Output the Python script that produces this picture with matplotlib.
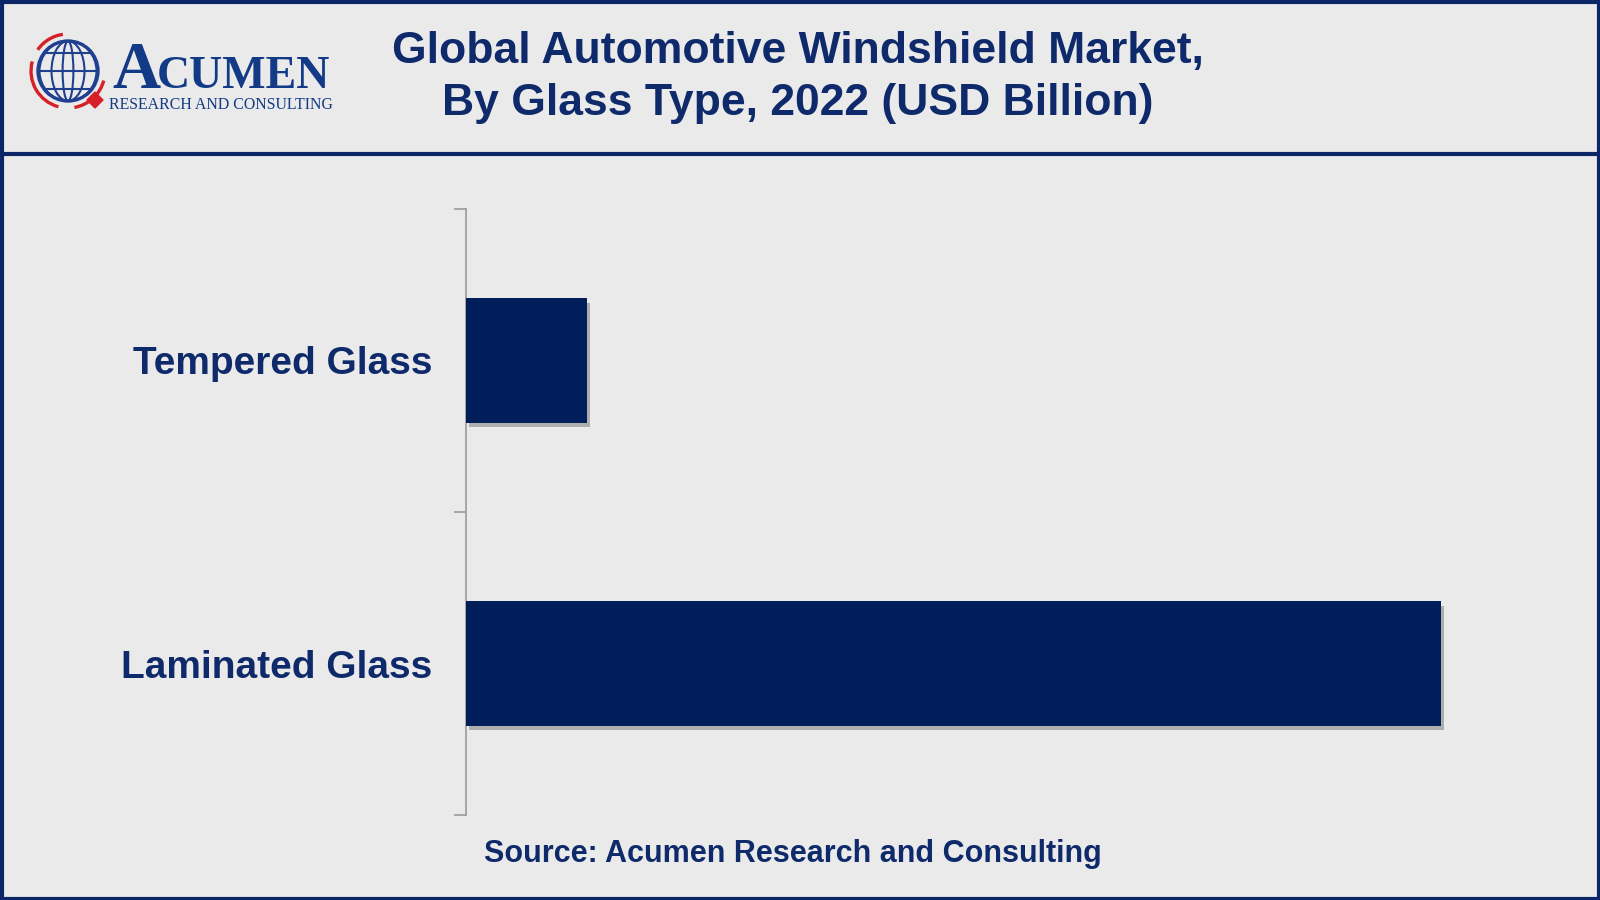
import math
import matplotlib
matplotlib.use("Agg")
import matplotlib.pyplot as plt
from matplotlib.patches import Circle, Ellipse, Arc, Rectangle, RegularPolygon
import matplotlib.patheffects as pe

categories = ["Laminated Glass", "Tempered Glass"]
values = [17.5, 2.17]
title_lines = ["Global Automotive Windshield Market,", "By Glass Type, 2022 (USD Billion)"]
source_text = "Source: Acumen Research and Consulting"

NAVY = "#001E5A"
TEXT = "#0F2A6B"
BG = "#EAEAEA"
LOGO = "#123A86"

fig = plt.figure(figsize=(16, 9), dpi=100, facecolor=BG)

deco = fig.add_axes([0, 0, 1, 1], zorder=0)
deco.set_xlim(0, 1600)
deco.set_ylim(900, 0)
deco.axis("off")
deco.set_facecolor(BG)

# frame
deco.add_patch(Rectangle((1.5, 1.5), 1597, 897, fill=False, ec="#0B2566", lw=3))
deco.plot([0, 1600], [153.5, 153.5], color="#0B2566", lw=3, solid_capstyle="butt")

# logo globe
gx, gy, gr = 68, 71, 30
deco.add_patch(Circle((gx, gy), gr, fill=False, ec="#1F3F8F", lw=2.4))
for w in [0.95, 0.55, 0.18]:
    deco.add_patch(Ellipse((gx, gy), 2 * gr * w, 2 * gr, fill=False, ec="#1F3F8F", lw=1.5))
for dy in [-18, 0, 18]:
    half = math.sqrt(max(gr ** 2 - dy ** 2, 0))
    deco.plot([gx - half, gx + half], [gy + dy, gy + dy], color="#1F3F8F", lw=1.5)
R = 2 * (gr + 7)
deco.add_patch(Arc((gx, gy), R, R, theta1=105, theta2=195, color="#D62027", lw=2.4))
deco.add_patch(Arc((gx, gy), R, R, theta1=15, theta2=80, color="#D62027", lw=2.4))
deco.add_patch(Arc((gx, gy), R, R, theta1=215, theta2=262, color="#D62027", lw=2.4))
deco.add_patch(RegularPolygon((95, 100), 4, radius=8, orientation=0, color="#D62027"))

tA = deco.text(112, 88, "A", fontsize=48, family="Liberation Serif", fontweight="bold",
               color=LOGO, ha="left", va="baseline")
fig.canvas.draw()
bb = tA.get_window_extent(renderer=fig.canvas.get_renderer())
xA = bb.x1 - 3
deco.text(xA, 88, "CUMEN", fontsize=33, family="Liberation Serif", fontweight="bold",
          color=LOGO, ha="left", va="baseline")
deco.text(109, 109, "RESEARCH AND CONSULTING", fontsize=11.4, family="Liberation Serif",
          color=LOGO, ha="left", va="baseline")

# title
deco.text(798, 52, title_lines[0], fontsize=32, fontweight="bold", family="Liberation Sans",
          color=TEXT, ha="center", va="center")
deco.text(798, 104, title_lines[1], fontsize=32, fontweight="bold", family="Liberation Sans",
          color=TEXT, ha="center", va="center")

# source
deco.text(793, 854, source_text, fontsize=22, fontweight="bold", family="Liberation Sans",
          color=TEXT, ha="center", va="center")

# chart
ax = fig.add_axes([466 / 1600, 1 - 815 / 900, 1114 / 1600, 606 / 900], zorder=2)
ax.set_facecolor("none")
ypos = list(range(len(categories)))
bars = ax.barh(ypos, values, height=0.41, color=NAVY, zorder=3)
for b in bars:
    b.set_path_effects([pe.SimplePatchShadow(offset=(2, -3), shadow_rgbFace="#555555", alpha=0.4),
                        pe.Normal()])
ax.set_xlim(0, 20)
ax.set_ylim(-0.5, len(categories) - 0.5)
for s in ["top", "right", "bottom"]:
    ax.spines[s].set_visible(False)
ax.spines["left"].set_color("#9A9A9A")
ax.spines["left"].set_linewidth(1.2)
ax.set_xticks([])
ax.set_yticks([-0.5, 0.5, 1.5])
ax.set_yticklabels([])
ax.tick_params(axis="y", which="major", length=9, color="#9A9A9A", width=1.2)
ax.set_yticks(ypos, minor=True)
ax.set_yticklabels(categories, minor=True, fontsize=28, fontweight="bold",
                   family="Liberation Sans", color=TEXT)
ax.tick_params(axis="y", which="minor", length=0, pad=24)

fig.savefig("out.png", dpi=100, facecolor=BG)
